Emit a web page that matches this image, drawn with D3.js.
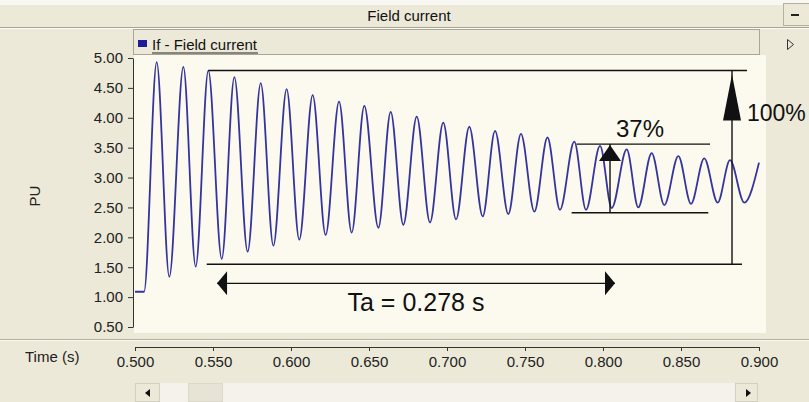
<!DOCTYPE html>
<html>
<head>
<meta charset="UTF-8">
<title>Field current</title>
<script src="https://cdn.jsdelivr.net/npm/d3@7"></script>
<style>
  html, body { margin: 0; padding: 0; background: #ece9d8; }
  svg { display: block; font-family: "Liberation Sans", Arial, sans-serif; }
</style>
</head>
<body>
<div id="chart"></div>
<script>
// signal samples (extremes of the oscillation)
const sigTime = [0.5000, 0.5058, 0.5139, 0.5220, 0.5310, 0.5389, 0.5470, 0.5556, 0.5637, 0.5722,
  0.5806, 0.5887, 0.5972, 0.6053, 0.6139, 0.6222, 0.6308, 0.6389, 0.6470, 0.6560,
  0.6639, 0.6720, 0.6806, 0.6891, 0.6976, 0.7058, 0.7143, 0.7229, 0.7308, 0.7393,
  0.7474, 0.7560, 0.7644, 0.7724, 0.7816, 0.7891, 0.7981, 0.8056, 0.8152, 0.8226,
  0.8312, 0.8393, 0.8483, 0.8564, 0.8649, 0.8735, 0.8814, 0.8906, 0.9000];
const sigValue = [1.09, 1.09, 4.93, 1.34, 4.85, 1.51, 4.79, 1.64, 4.68, 1.76,
  4.58, 1.86, 4.48, 1.96, 4.38, 2.04, 4.27, 2.08, 4.20, 2.16,
  4.10, 2.21, 4.02, 2.25, 3.92, 2.30, 3.85, 2.35, 3.78, 2.39,
  3.73, 2.43, 3.67, 2.46, 3.60, 2.46, 3.53, 2.49, 3.47, 2.50,
  3.41, 2.54, 3.36, 2.56, 3.32, 2.58, 3.29, 2.58, 3.25];

const yTicks = [0.5, 1, 1.5, 2, 2.5, 3, 3.5, 4, 4.5, 5];
const xTicks = [0.5, 0.55, 0.6, 0.65, 0.7, 0.75, 0.8, 0.85, 0.9];

// annotation lines, in data units: [t start, t end, value]
const hLines = [[0.5470, 0.8923, 4.79], [0.5460, 0.8891, 1.55], [0.7831, 0.8686, 3.56], [0.7799, 0.8675, 2.41]];
// vertical arrows: [t, top value, bottom value]
const vLines = [[0.8827, 4.79, 1.55], [0.8045, 3.56, 2.41]];
// Ta arrow: [t left, t right, value]
const taArrow = [0.5526, 0.8077, 1.23];
// labels: [text, t, value, anchor, size]
const notes = [["100%", 0.8923, 3.95, "start", 23], ["37%", 0.8237, 3.68, "middle", 24], ["Ta = 0.278 s", 0.6801, 0.77, "middle", 25]];

const W = 809, H = 402;
const svg = d3.select("#chart").append("svg").attr("width", W).attr("height", H);

const x = d3.scaleLinear().domain([0.5, 0.9]).range([135, 759]);
const y = d3.scaleLinear().domain([0.5, 5]).range([327, 58]);

// window chrome
svg.append("rect").attr("width", W).attr("height", H).attr("fill", "#ece9d8");
svg.append("rect").attr("width", W).attr("height", 5).attr("fill", "#f8f7f2");
svg.append("line").attr("x1", 0).attr("x2", W).attr("y1", 27.5).attr("y2", 27.5).attr("stroke", "#a8a494");
svg.append("line").attr("x1", 0).attr("x2", W).attr("y1", 28.5).attr("y2", 28.5).attr("stroke", "#fbfaf5");
svg.append("text").attr("x", 409).attr("y", 21).attr("text-anchor", "middle")
  .attr("font-size", 15).attr("fill", "#111").text("Field current");
// minimise button
svg.append("rect").attr("x", 783.5).attr("y", 3.5).attr("width", 26).attr("height", 22)
  .attr("fill", "#ece9d8").attr("stroke", "#b5b19f");
svg.append("rect").attr("x", 791).attr("y", 14).attr("width", 8).attr("height", 2).attr("fill", "#222");

// plot background
svg.append("rect").attr("x", 134).attr("y", 55).attr("width", 632).attr("height", 278).attr("fill", "#fcf9ee");

// legend strip
svg.append("rect").attr("x", 133.5).attr("y", 29.5).attr("width", 626).attr("height", 25)
  .attr("fill", "#ece9d8").attr("stroke", "#aaa696");
svg.append("rect").attr("x", 138).attr("y", 40).attr("width", 9).attr("height", 7).attr("fill", "#1c1c9a");
svg.append("text").attr("x", 152).attr("y", 50).attr("font-size", 15).attr("fill", "#111").text("If - Field current");
svg.append("line").attr("x1", 152).attr("x2", 258).attr("y1", 53).attr("y2", 53).attr("stroke", "#222");
svg.append("path").attr("d", "M787.5,39.5 L793.5,44.5 L787.5,49.5 Z").attr("fill", "none").attr("stroke", "#333");

// separator above the time axis
svg.append("line").attr("x1", 0).attr("x2", W).attr("y1", 339.5).attr("y2", 339.5).attr("stroke", "#b3af9e");
svg.append("line").attr("x1", 0).attr("x2", W).attr("y1", 340.5).attr("y2", 340.5).attr("stroke", "#fbfaf5");

// axes
const yAxis = svg.append("g").attr("transform", "translate(133,0)")
  .call(d3.axisLeft(y).tickValues(yTicks).tickFormat(d3.format(".2f")).tickSize(5).tickSizeOuter(0).tickPadding(5));
const xAxis = svg.append("g").attr("transform", "translate(0,347)")
  .call(d3.axisBottom(x).tickValues(xTicks).tickFormat(d3.format(".3f")).tickSize(4).tickSizeOuter(0).tickPadding(5));
[yAxis, xAxis].forEach(g => {
  g.selectAll("text").attr("font-size", 15).attr("fill", "#222")
    .attr("font-family", "'Liberation Sans', Arial, sans-serif");
  g.selectAll("path, line").attr("stroke", "#333");
});

svg.append("text").attr("transform", "translate(40,196) rotate(-90)").attr("text-anchor", "middle")
  .attr("font-size", 15).attr("fill", "#222").text("PU");
svg.append("text").attr("x", 25).attr("y", 362).attr("font-size", 15).attr("fill", "#222").text("Time (s)");

// signal
const pts = sigTime.map((t, i) => [t, sigValue[i]]);
svg.append("path").datum(pts)
  .attr("fill", "none").attr("stroke", "#34349e").attr("stroke-width", 1.8)
  .attr("d", d3.line().x(d => x(d[0])).y(d => y(d[1])).curve(d3.curveMonotoneX));

// annotations
const ann = svg.append("g").attr("stroke", "#111").attr("stroke-width", 1.4);
ann.selectAll(".h").data(hLines).join("line")
  .attr("x1", d => x(d[0])).attr("x2", d => x(d[1])).attr("y1", d => y(d[2])).attr("y2", d => y(d[2]));
ann.selectAll(".v").data(vLines).join("line")
  .attr("x1", d => x(d[0])).attr("x2", d => x(d[0])).attr("y1", d => y(d[1])).attr("y2", d => y(d[2]));
ann.append("line").attr("x1", x(taArrow[0])).attr("x2", x(taArrow[1]))
  .attr("y1", y(taArrow[2])).attr("y2", y(taArrow[2]));

// arrow heads
const heads = svg.append("g").attr("fill", "#111");
const bigUp = vLines[0], smallUp = vLines[1];
let px = x(bigUp[0]), py = y(bigUp[1]) + 4;
heads.append("path").attr("d", `M${px},${py} L${px - 9},${py + 46} L${px + 9},${py + 46} Z`);
px = x(smallUp[0]); py = y(smallUp[1]) + 1;
heads.append("path").attr("d", `M${px},${py} L${px - 11},${py + 16} L${px + 11},${py + 16} Z`);
const ay = y(taArrow[2]);
let ax = x(taArrow[0]);
heads.append("path").attr("d", `M${ax},${ay} L${ax + 10},${ay - 12} L${ax + 10},${ay + 12} Z`);
ax = x(taArrow[1]);
heads.append("path").attr("d", `M${ax},${ay} L${ax - 10},${ay - 12} L${ax - 10},${ay + 12} Z`);

svg.append("g").selectAll("text").data(notes).join("text")
  .attr("x", d => x(d[1])).attr("y", d => y(d[2])).attr("text-anchor", d => d[3])
  .attr("font-size", d => d[4]).attr("fill", "#111").text(d => d[0]);

// scrollbar
svg.append("rect").attr("x", 135).attr("y", 383).attr("width", 623).attr("height", 19).attr("fill", "#f4f2ea");
svg.append("rect").attr("x", 135.5).attr("y", 383.5).attr("width", 24).attr("height", 18)
  .attr("fill", "#ece9d8").attr("stroke", "#d3d0c2");
svg.append("rect").attr("x", 188.5).attr("y", 383.5).attr("width", 34).attr("height", 18)
  .attr("fill", "#e7e4d6").attr("stroke", "#dcd9cb");
svg.append("rect").attr("x", 735.5).attr("y", 383.5).attr("width", 22).attr("height", 18)
  .attr("fill", "#ece9d8").attr("stroke", "#d3d0c2");
svg.append("path").attr("d", "M145,393 L150,389 L150,397 Z").attr("fill", "#111");
svg.append("path").attr("d", "M751,393 L746,389 L746,397 Z").attr("fill", "#111");
</script>
</body>
</html>
